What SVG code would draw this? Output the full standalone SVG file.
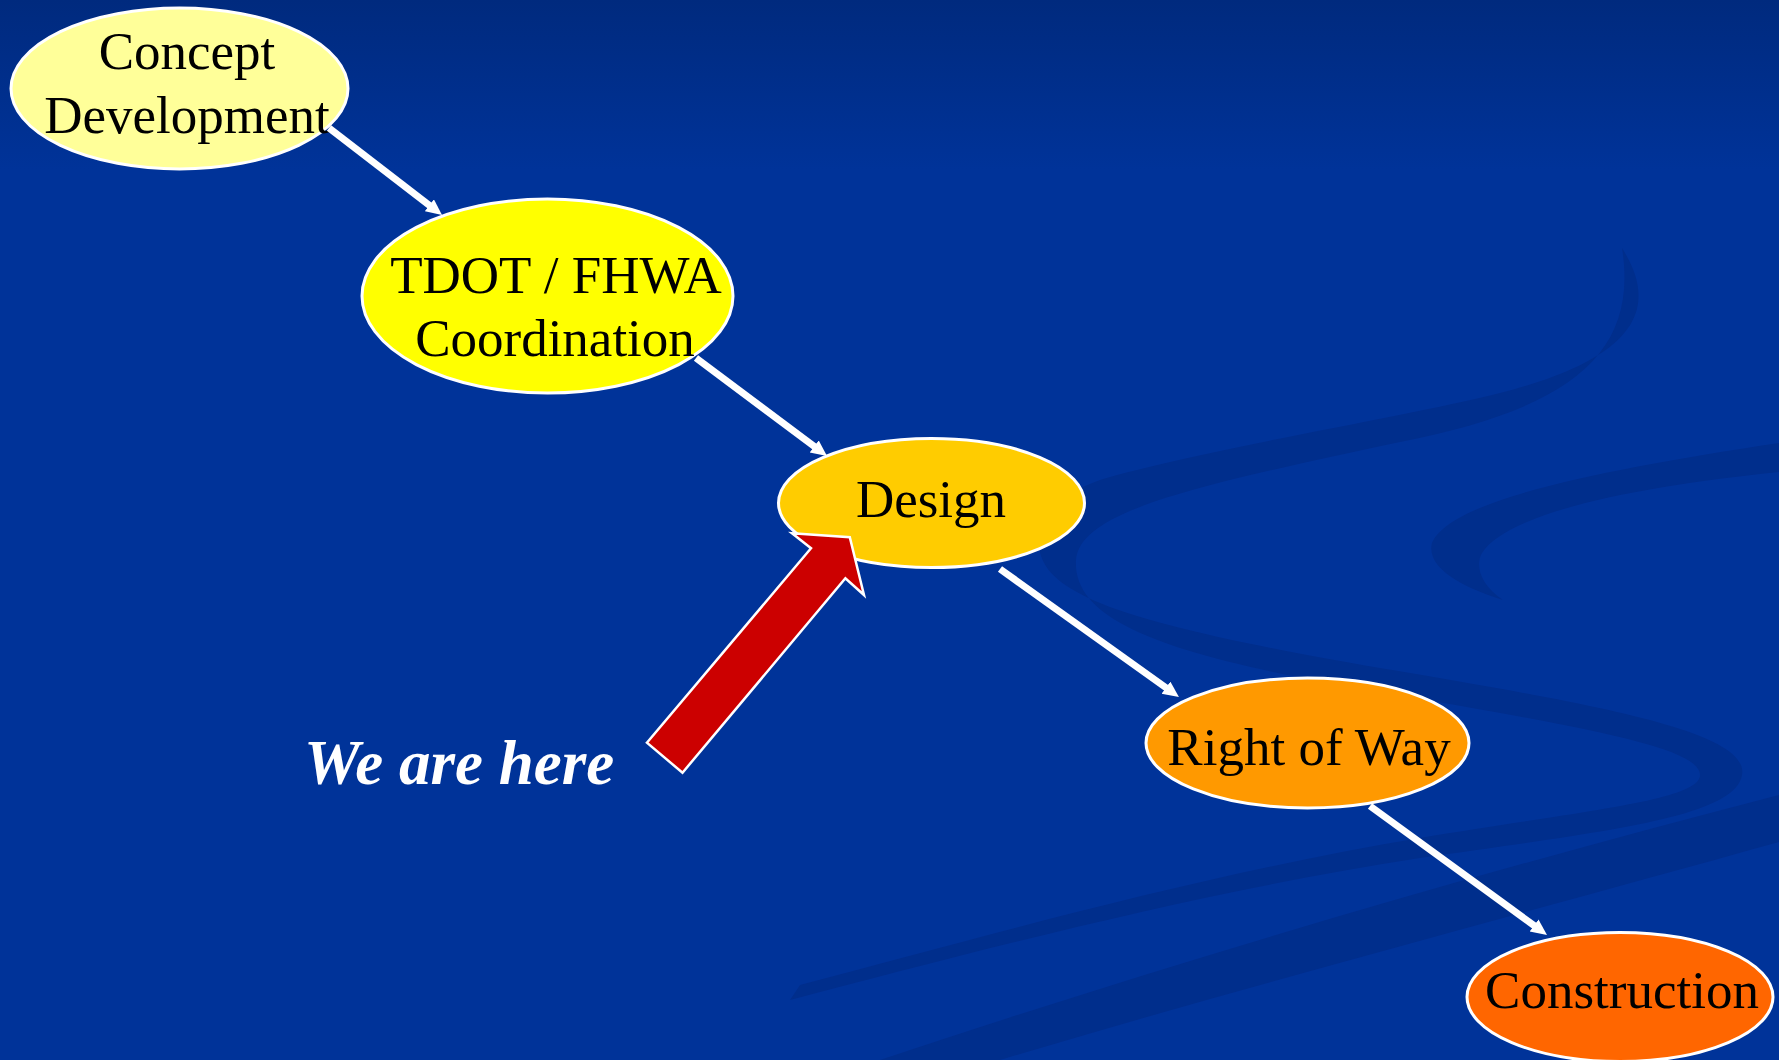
<svg xmlns="http://www.w3.org/2000/svg" width="1779" height="1060" viewBox="0 0 1779 1060">
  <style>
    .node { stroke: #FFFFFF; stroke-width: 3; }
    .lbl { font-family: "Liberation Serif", "Times New Roman", serif; font-size: 53px; fill: #000000; text-anchor: middle; }
    .conn { stroke: #FFFFFF; stroke-width: 7; fill: none; marker-end: url(#ah); }
    .swirl { fill: #002E8C; }
    .here { font-family: "Liberation Serif", "Times New Roman", serif; font-size: 63px; font-weight: bold; font-style: italic; fill: #FFFFFF; }
  </style>
  <defs>
    <linearGradient id="bg" x1="0" y1="0" x2="0" y2="1">
      <stop offset="0" stop-color="#002A7E"/>
      <stop offset="0.16" stop-color="#003399"/>
      <stop offset="1" stop-color="#003399"/>
    </linearGradient>
    <marker id="ah" markerUnits="userSpaceOnUse" markerWidth="18" markerHeight="16" refX="4" refY="7.5" orient="auto">
      <path d="M0,0 L16,7.5 L0,15 Z" fill="#FFFFFF"/>
    </marker>
  </defs>

  <rect x="0" y="0" width="1779" height="1060" fill="url(#bg)"/>

  <g id="background-swirls">
    <path class="swirl" d="M 1622 248 C 1655 300, 1650 355, 1500 393 C 1400 418, 1200 450, 1100 480 C 1050 498, 1035 525, 1040 552 C 1050 600, 1150 628, 1380 668 C 1600 705, 1750 732, 1742 775 C 1735 818, 1600 832, 1420 858 C 1200 892, 980 950, 790 1000 L 800 985 C 990 935, 1200 875, 1420 838 C 1590 810, 1700 800, 1700 775 C 1700 748, 1590 728, 1380 692 C 1180 658, 1072 625, 1076 560 C 1080 510, 1200 485, 1400 442 C 1560 410, 1640 360, 1622 248 Z"/>
    <path class="swirl" d="M 1779 443 C 1600 470, 1450 500, 1432 543 C 1425 570, 1470 590, 1503 600 C 1480 585, 1475 565, 1482 553 C 1510 510, 1650 485, 1779 472 Z"/>
    <path class="swirl" d="M 1779 795 L 1779 842 C 1500 920, 1250 985, 1000 1060 L 880 1060 C 1150 970, 1450 880, 1779 795 Z"/>
  </g>

  <g id="node-concept">
    <ellipse class="node" cx="179.5" cy="88.5" rx="168.5" ry="80.5" fill="#FFFF99"/>
    <text class="lbl" x="187" y="69">Concept</text>
    <text class="lbl" x="187" y="133">Development</text>
  </g>

  <g id="node-tdot">
    <ellipse class="node" cx="547.5" cy="296" rx="185.5" ry="97" fill="#FFFF00"/>
    <text class="lbl" x="556" y="293">TDOT / FHWA</text>
    <text class="lbl" x="555" y="356">Coordination</text>
  </g>

  <g id="node-design">
    <ellipse class="node" cx="931.5" cy="503" rx="153" ry="64.5" fill="#FFCC00"/>
    <text class="lbl" x="931" y="517">Design</text>
  </g>

  <g id="node-row">
    <ellipse class="node" cx="1307.5" cy="743" rx="161.5" ry="65" fill="#FF9900"/>
    <text class="lbl" x="1309" y="765">Right of Way</text>
  </g>

  <g id="node-construction">
    <ellipse class="node" cx="1620" cy="997" rx="153" ry="64.5" fill="#FF6600"/>
    <text class="lbl" x="1622" y="1008">Construction</text>
  </g>

  <g id="connectors">
    <line class="conn" x1="329" y1="128" x2="432.5" y2="207.7"/>
    <line class="conn" x1="696" y1="358" x2="817.4" y2="448.8"/>
    <line class="conn" x1="1000" y1="569" x2="1169.2" y2="690"/>
    <line class="conn" x1="1370" y1="806" x2="1537.3" y2="927.9"/>
  </g>

  <g id="we-are-here">
    <polygon points="646.9,742.7 811,548.3 792,533.3 849.8,537.3 864,595 845.4,578.3 682.5,772.7" fill="#CC0000" stroke="#FFFFFF" stroke-width="2.5" stroke-linejoin="miter"/>
    <text class="here" x="304" y="784">We are here</text>
  </g>
</svg>
